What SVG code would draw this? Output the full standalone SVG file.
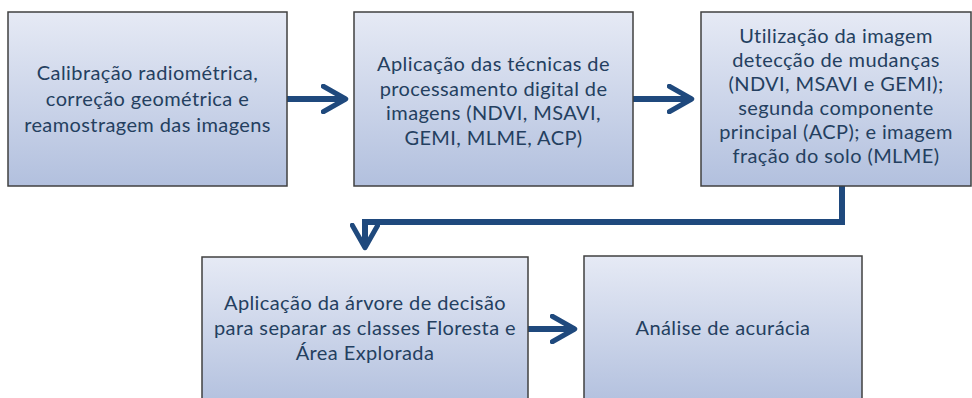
<svg xmlns="http://www.w3.org/2000/svg" width="972" height="398" viewBox="0 0 972 398">
<defs>
<linearGradient id="g" x1="0" y1="0" x2="0" y2="1">
<stop offset="0" stop-color="#e6eaf5"/>
<stop offset="1" stop-color="#b2c0de"/>
</linearGradient>
<marker id="ah" viewBox="0 0 12 12" refX="8.5" refY="6" markerWidth="5" markerHeight="5" markerUnits="strokeWidth" orient="auto">
<path d="M1,0.9 L10,6 L1,11.1" fill="none" stroke="#1f497d" stroke-width="2" stroke-linecap="round" stroke-linejoin="round"/>
</marker>
</defs>
<style>
.box{fill:url(#g);stroke:#404040;stroke-width:1.5}
.t{font-family:Lato,"Open Sans","Liberation Sans",sans-serif;font-size:20px;letter-spacing:0.4px;fill:#243f60;text-anchor:middle}
.c{fill:none;stroke:#1f497d;stroke-width:6}
</style>
<rect width="972" height="398" fill="#ffffff"/>
<g id="connectors">
<path class="c" d="M287,99 H342" marker-end="url(#ah)"/>
<path class="c" d="M633,99 H688" marker-end="url(#ah)"/>
<path class="c" d="M842,186 V222 H365 V244" marker-end="url(#ah)"/>
<path class="c" d="M528,329 H571" marker-end="url(#ah)"/>
</g>
<g id="n1">
<rect class="box" x="8" y="12" width="279" height="174"/>
<text class="t"><tspan x="147.5" y="80">Calibração radiométrica,</tspan><tspan x="147.5" y="106">correção geométrica e</tspan><tspan x="147.5" y="132">reamostragem das imagens</tspan></text>
</g>
<g id="n2">
<rect class="box" x="354" y="12" width="279" height="174"/>
<text class="t"><tspan x="493.5" y="71">Aplicação das técnicas de</tspan><tspan x="493.5" y="95.5">processamento digital de</tspan><tspan x="493.5" y="120">imagens (NDVI, MSAVI,</tspan><tspan x="493.5" y="145">GEMI, MLME, ACP)</tspan></text>
</g>
<g id="n3">
<rect class="box" x="701" y="12" width="270" height="174"/>
<text class="t"><tspan x="836" y="43">Utilização da imagem</tspan><tspan x="836" y="67">detecção de mudanças</tspan><tspan x="836" y="91">(NDVI, MSAVI e GEMI);</tspan><tspan x="836" y="115">segunda componente</tspan><tspan x="836" y="139">principal (ACP); e imagem</tspan><tspan x="836" y="163">fração do solo (MLME)</tspan></text>
</g>
<g id="n4">
<rect class="box" x="202" y="257" width="326" height="150"/>
<text class="t"><tspan x="365" y="310">Aplicação da árvore de decisão</tspan><tspan x="365" y="335">para separar as classes Floresta e</tspan><tspan x="365" y="360">Área Explorada</tspan></text>
</g>
<g id="n5">
<rect class="box" x="584" y="256" width="278" height="150"/>
<text class="t"><tspan x="723" y="335">Análise de acurácia</tspan></text>
</g>
</svg>
